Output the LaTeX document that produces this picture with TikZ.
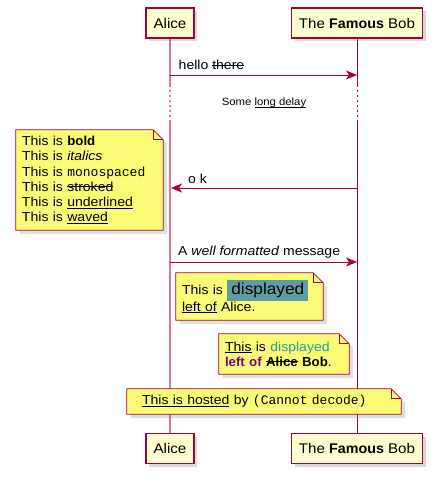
\documentclass[tikz,border=0pt]{standalone}
\usepackage{fontspec}
\setmainfont{Liberation Sans}[UprightFeatures={FakeStretch=1.08},ItalicFeatures={FakeStretch=1.08},BoldFeatures={FakeStretch=1.02}]
\setmonofont{Liberation Mono}
\usetikzlibrary{arrows.meta,shadows,backgrounds}
\definecolor{umlred}{RGB}{168,0,54}
\definecolor{umlpink}{RGB}{214,120,155}
\definecolor{partfill}{RGB}{254,254,206}
\definecolor{notefill}{RGB}{251,251,119}
\definecolor{cadet}{RGB}{95,158,160}
\definecolor{tealtext}{RGB}{32,160,160}
\definecolor{purpletext}{RGB}{128,0,128}
\newsavebox\markbox
\newcommand{\uln}[1]{\leavevmode\sbox\markbox{#1}\rlap{\rule[-0.17em]{\wd\markbox}{0.07em}}\usebox\markbox}
\newcommand{\strike}[1]{\leavevmode\sbox\markbox{#1}\rlap{\rule[0.3em]{\wd\markbox}{0.07em}}\usebox\markbox}
\tikzset{
  participant/.style={draw=umlred, fill=partfill, line width=1.2pt, minimum height=30pt,
    inner xsep=4pt, font=\fontsize{14}{16}\selectfont,
    drop shadow={shadow xshift=3pt, shadow yshift=-3pt, opacity=.3}},
  msg/.style={draw=umlred, line width=1pt, -{Stealth[length=11pt,width=9pt,inset=3pt]}},
  msglabel/.style={anchor=base west, inner sep=0pt, font=\fontsize{13}{15}\selectfont},
  delaylabel/.style={inner sep=0pt, font=\fontsize{10.5}{12}\selectfont},
  notetext/.style={inner xsep=6pt, inner ysep=0pt, align=left, font=\fontsize{13}{15.2}\selectfont},
  noteshape/.style={draw=umlred, fill=notefill, line width=0.8pt,
    drop shadow={shadow xshift=4pt, shadow yshift=-4pt, opacity=.25}},
  notefold/.style={draw=umlred, line width=0.8pt},
  lifeA/.style={draw=umlpink, line width=1.6pt},
  lifeB/.style={draw=umlred, line width=1pt},
  delayline/.style={dash pattern=on 1.5pt off 3.5pt},
}
\newcommand{\drawnote}[1]{%
  \path[noteshape] (#1.north west) -- ([xshift=-10pt]#1.north east)
    -- ([yshift=-10pt]#1.north east) -- (#1.south east) -- (#1.south west) -- cycle;
  \draw[notefold] ([xshift=-10pt]#1.north east) |- ([yshift=-10pt]#1.north east);
}
\begin{document}
\begin{tikzpicture}[x=1pt,y=-1pt]
\useasboundingbox (0,0) rectangle (436,480);

% participants
\node[participant, minimum width=48pt] (alicetop) at (170,23) {Alice};
\node[participant, minimum width=131pt] (bobtop) at (357,23) {The \textbf{Famous} Bob};
\node[participant, minimum width=48pt] (alicebot) at (170,448.5) {Alice};
\node[participant, minimum width=131pt] (bobbot) at (357,448.5) {The \textbf{Famous} Bob};

% lifelines, with the delay
\coordinate (adelay1) at (170,85);
\coordinate (adelay2) at (170,122);
\coordinate (bdelay1) at (357,85);
\coordinate (bdelay2) at (357,122);
\begin{scope}[on background layer]
  \draw[lifeA] (alicetop.south) -- (adelay1);
  \draw[lifeA, delayline] (adelay1) -- (adelay2);
  \draw[lifeA] (adelay2) -- (alicebot.north);
  \draw[lifeB] (bobtop.south) -- (bdelay1);
  \draw[lifeB, delayline] (bdelay1) -- (bdelay2);
  \draw[lifeB] (bdelay2) -- (bobbot.north);
\end{scope}
\node[delaylabel] (delay) at (264,103) {Some \uln{long delay}};

% messages
\coordinate (hello1) at (170,75);
\coordinate (hello2) at (357,75);
\draw[msg] (hello1) -- (hello2);
\node[msglabel] (hellolabel) at (178.5,69.5) {hello \strike{there}};

\coordinate (ok1) at (357,188);
\coordinate (ok2) at (171,188);
\draw[msg] (ok1) -- (ok2);
\node[msglabel] (oklabel) at (188,183.5) {o k};

\coordinate (well1) at (170,262);
\coordinate (well2) at (357,262);
\draw[msg] (well1) -- (well2);
\node[msglabel] (welllabel) at (178,255.5) {A \textit{well formatted} message};

% notes
\node[notetext, text width=135pt, minimum height=100pt] (note1) at (89.5,180) {%
  This is \textbf{bold}\\
  This is \textit{italics}\\
  This is \texttt{monospaced}\\
  This is \strike{stroked}\\
  This is \uln{underlined}\\
  This is \uln{waved}};
\node[notetext, text width=135pt, minimum height=47pt] (note2) at (249.5,296.5) {%
  This is {\fboxsep=3pt\colorbox{cadet}{\fontsize{16}{18}\selectfont\hspace{1pt}displayed\hspace{1pt}}}\\
  \uln{left of} Alice.};
\node[notetext, text width=118pt, minimum height=40pt] (note3) at (284,354) {%
  \uln{This} is \textcolor{tealtext}{displayed}\\
  \textcolor{purpletext}{\textbf{left of}} \textbf{\strike{Alice} Bob}.};
\node[notetext, text width=262pt, minimum height=25pt] (note4) at (264,401.5) {%
  \hspace*{9pt}\uln{This is hosted} by \texttt{(Cannot decode)}};
\begin{scope}[on background layer]
  \drawnote{note1}
  \drawnote{note2}
  \drawnote{note3}
  \drawnote{note4}
\end{scope}
\end{tikzpicture}
\end{document}
